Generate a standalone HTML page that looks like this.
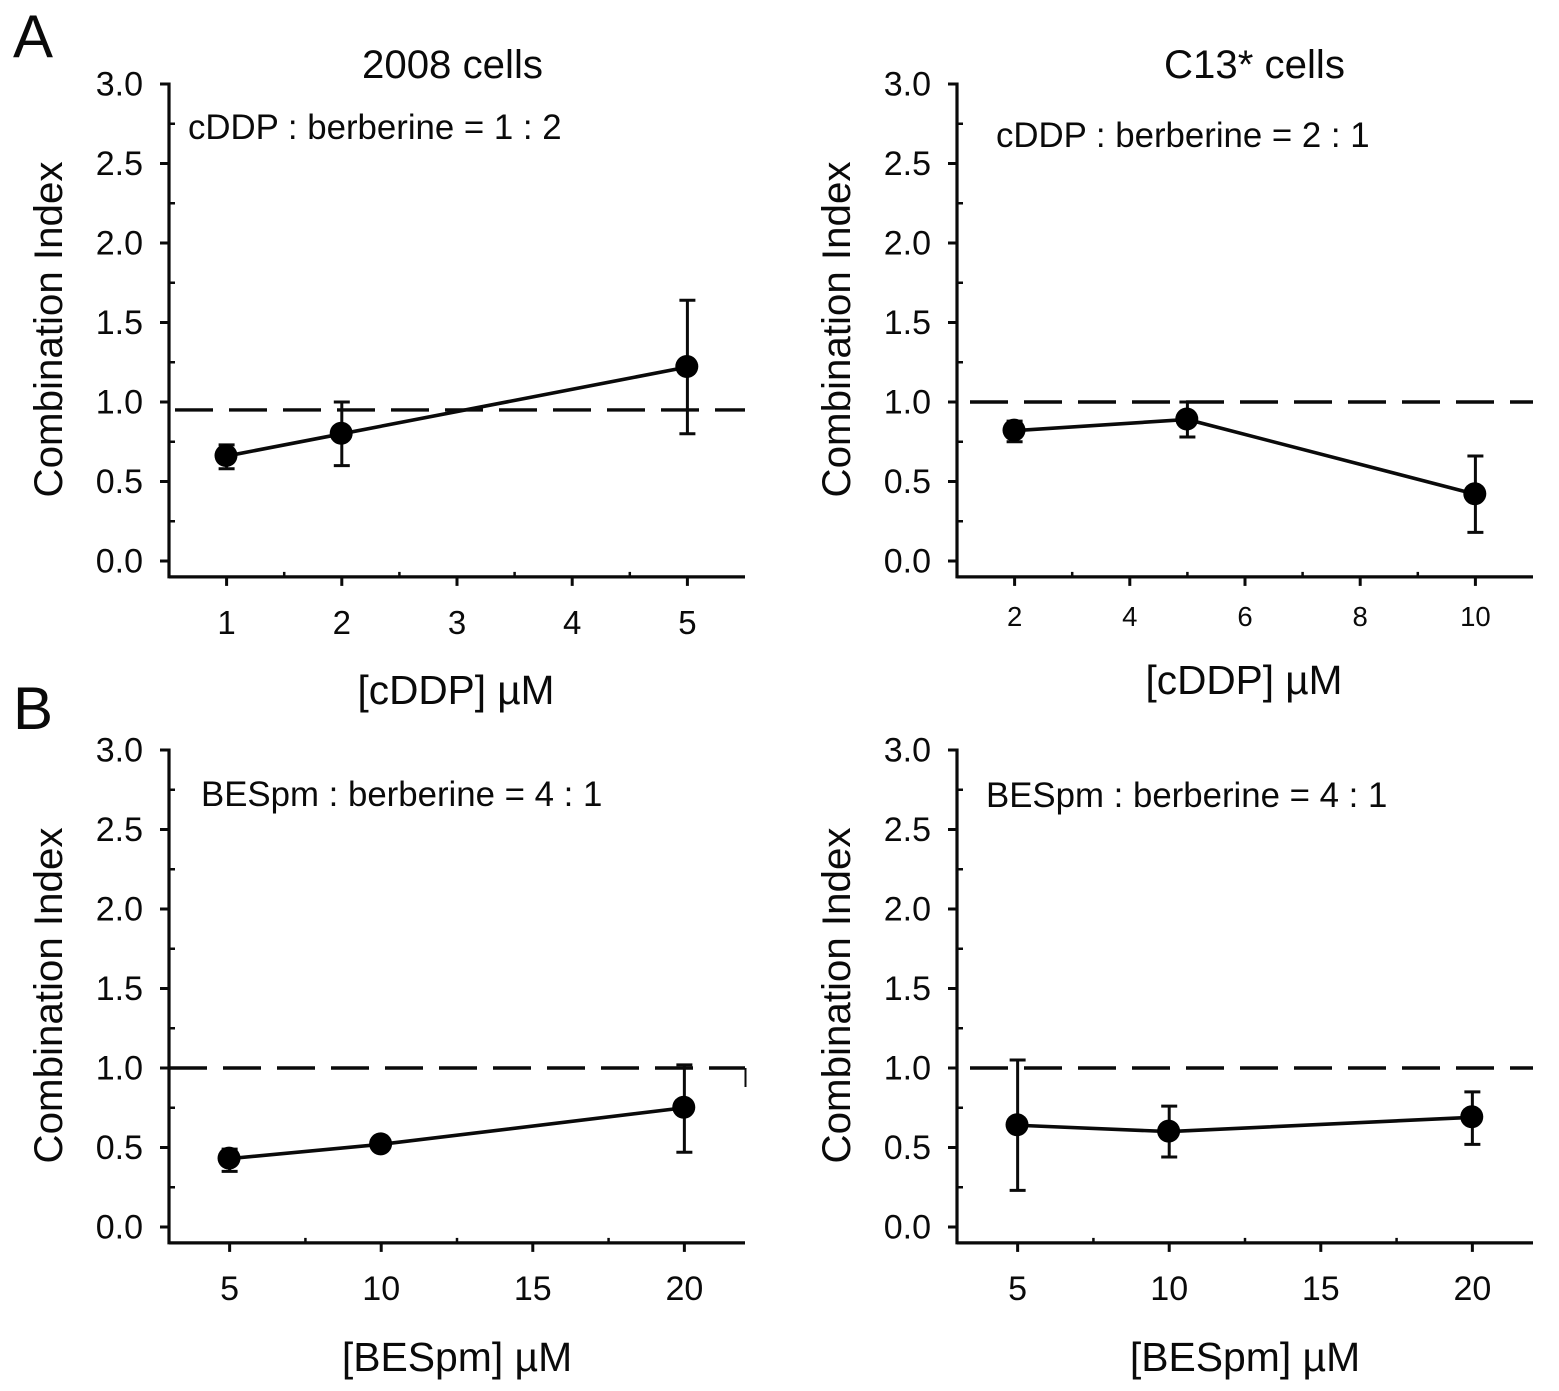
<!DOCTYPE html>
<html lang="en">
<head>
<meta charset="utf-8">
<title>Combination Index charts</title>
<style>
html,body{margin:0;padding:0;background:#fff;}
svg{display:block;}
text{font-family:"Liberation Sans",sans-serif;fill:#0a0a0a;}
</style>
</head>
<body>
<svg id="figure" width="1559" height="1391" viewBox="0 0 1559 1391" xmlns="http://www.w3.org/2000/svg"></svg>
<script>
// Data
const yTickValues = [0, 0.5, 1, 1.5, 2, 2.5, 3];
const yTickLabels = ['0.0', '0.5', '1.0', '1.5', '2.0', '2.5', '3.0'];
const yMinorValues = [0.25, 0.75, 1.25, 1.75, 2.25, 2.75];

const a1Doses = [1, 2, 5];
const a1Ci = [0.66, 0.80, 1.22];
const a1Upper = [0.73, 1.00, 1.64];
const a1Lower = [0.58, 0.60, 0.80];
const a1Reference = 0.95;
const a1XTicks = [1, 2, 3, 4, 5];
const a1XMinor = [1.5, 2.5, 3.5, 4.5];

const a2Doses = [2, 5, 10];
const a2Ci = [0.82, 0.89, 0.42];
const a2Upper = [0.88, 1.00, 0.66];
const a2Lower = [0.75, 0.78, 0.18];
const a2Reference = 1.0;
const a2XTicks = [2, 4, 6, 8, 10];
const a2XMinor = [3, 5, 7, 9];

const b1Doses = [5, 10, 20];
const b1Ci = [0.43, 0.52, 0.75];
const b1Upper = [0.49, 0.55, 1.02];
const b1Lower = [0.35, 0.49, 0.47];
const b1Reference = 1.0;
const b1XTicks = [5, 10, 15, 20];
const b1XMinor = [7.5, 12.5, 17.5];

const b2Doses = [5, 10, 20];
const b2Ci = [0.64, 0.60, 0.69];
const b2Upper = [1.05, 0.76, 0.85];
const b2Lower = [0.23, 0.44, 0.52];
const b2Reference = 1.0;
const b2XTicks = [5, 10, 15, 20];
const b2XMinor = [7.5, 12.5, 17.5];

const NS = 'http://www.w3.org/2000/svg';
const root = document.getElementById('figure');

function make(tag, attrs, parent, content) {
  const el = document.createElementNS(NS, tag);
  for (const k in attrs) el.setAttribute(k, attrs[k]);
  if (content !== undefined) el.textContent = content;
  parent.appendChild(el);
  return el;
}

function drawLine(parent, x1, y1, x2, y2, w, name) {
  const el = make('line', {x1: x1, y1: y1, x2: x2, y2: y2, stroke: '#0a0a0a', 'stroke-width': w}, parent);
  
  
  return el;
}

function drawText(parent, x, y, size, anchor, str, name, extra) {
  const el = make('text', Object.assign({x: x, y: y, 'font-size': size, 'text-anchor': anchor}, extra || {}), parent, str);
  
  
  return el;
}

function drawPanel(p) {
  const g = make('g', {}, root);
  
  

  const sx = v => p.left + (v - p.xMin) / (p.xMax - p.xMin) * 576;
  const sy = v => p.top + (3 - v) * 159;
  const axisY = sy(-0.1);

  // axes
  drawLine(g, p.left, p.top - 1.5, p.left, axisY + 1.5, 3.2, 'y-axis-line');
  drawLine(g, p.left, axisY, p.left + 576, axisY, 3.2, 'x-axis-line');

  yTickValues.forEach((v, i) => {
    drawLine(g, p.left - 9, sy(v), p.left, sy(v), 3, 'y-tick');
    drawText(g, p.left - 26, sy(v) + 11.5, 34, 'end', yTickLabels[i], 'y-tick-label');
  });
  yMinorValues.forEach(v => {
    drawLine(g, p.left, sy(v), p.left + 6, sy(v), 2.5, 'y-minor-tick');
  });
  p.xTicks.forEach(v => {
    drawLine(g, sx(v), axisY, sx(v), axisY + 9, 3, 'x-tick');
    drawText(g, sx(v), p.xTickBase, p.xTickSize, 'middle', String(v), 'x-tick-label');
  });
  p.xMinor.forEach(v => {
    drawLine(g, sx(v), axisY, sx(v), axisY - 5, 2.5, 'x-minor-tick');
  });

  // reference line
  const ref = drawLine(g, p.left + p.dashStart, sy(p.reference), p.left + 576, sy(p.reference), 3.4, 'reference-dashed-line');
  ref.setAttribute('stroke-dasharray', '38 16');

  // error bars
  p.doses.forEach((d, i) => {
    const x = sx(d);
    drawLine(g, x, sy(p.upper[i]), x, sy(p.lower[i]), 3, 'error-bar');
    drawLine(g, x - 8, sy(p.upper[i]), x + 8, sy(p.upper[i]), 3, 'error-cap-upper');
    drawLine(g, x - 8, sy(p.lower[i]), x + 8, sy(p.lower[i]), 3, 'error-cap-lower');
  });

  // series line
  const pts = p.doses.map((d, i) => sx(d) + ',' + sy(p.ci[i])).join(' ');
  const poly = make('polyline', {points: pts, fill: 'none', stroke: '#0a0a0a', 'stroke-width': 3.6}, g);
  
  

  // points
  p.doses.forEach((d, i) => {
    const c = make('circle', {cx: sx(d) - 0.6, cy: sy(p.ci[i]) - 0.5, r: 11.5, fill: '#000'}, g);
    
    
  });

  // labels
  const yc = p.top + 245.5;
  drawText(g, 0, 0, 40.3, 'middle', 'Combination Index', 'y-axis-title',
    {transform: 'translate(' + (p.left - 107) + ' ' + yc + ') rotate(-90)'});
  drawText(g, p.xTitleX, p.xTitleBase, p.xTitleSize, 'middle', p.xTitle, 'x-axis-title');
  drawText(g, p.noteX, p.noteBase, 34.8, 'start', p.note, 'ratio-annotation');
  if (p.title) drawText(g, p.titleX, 78, 40.2, 'start', p.title, 'panel-title');
}

drawText(root, 13, 57, 60, 'start', 'A', 'panel-label-a');
drawText(root, 13, 729, 60, 'start', 'B', 'panel-label-b');

drawPanel({
  name: 'chart-2008-cddp', left: 169, top: 84, xMin: 0.5, xMax: 5.5,
  doses: a1Doses, ci: a1Ci, upper: a1Upper, lower: a1Lower, reference: a1Reference,
  xTicks: a1XTicks, xMinor: a1XMinor, xTickSize: 33, xTickBase: 634, dashStart: 6,
  xTitle: '[cDDP] µM', xTitleSize: 40.6, xTitleX: 456, xTitleBase: 704,
  note: 'cDDP : berberine = 1 : 2', noteX: 188, noteBase: 139,
  title: '2008 cells', titleX: 362
});
drawPanel({
  name: 'chart-c13-cddp', left: 957, top: 84, xMin: 1, xMax: 11,
  doses: a2Doses, ci: a2Ci, upper: a2Upper, lower: a2Lower, reference: a2Reference,
  xTicks: a2XTicks, xMinor: a2XMinor, xTickSize: 27.5, xTickBase: 626, dashStart: 13,
  xTitle: '[cDDP] µM', xTitleSize: 40.6, xTitleX: 1244, xTitleBase: 694,
  note: 'cDDP : berberine = 2 : 1', noteX: 996, noteBase: 147,
  title: 'C13* cells', titleX: 1164
});
drawPanel({
  name: 'chart-2008-bespm', left: 169, top: 750, xMin: 3, xMax: 22,
  doses: b1Doses, ci: b1Ci, upper: b1Upper, lower: b1Lower, reference: b1Reference,
  xTicks: b1XTicks, xMinor: b1XMinor, xTickSize: 34, xTickBase: 1300, dashStart: 0,
  xTitle: '[BESpm] µM', xTitleSize: 40.9, xTitleX: 457, xTitleBase: 1371,
  note: 'BESpm : berberine = 4 : 1', noteX: 201, noteBase: 806
});
drawPanel({
  name: 'chart-c13-bespm', left: 957, top: 750, xMin: 3, xMax: 22,
  doses: b2Doses, ci: b2Ci, upper: b2Upper, lower: b2Lower, reference: b2Reference,
  xTicks: b2XTicks, xMinor: b2XMinor, xTickSize: 34, xTickBase: 1300, dashStart: 13,
  xTitle: '[BESpm] µM', xTitleSize: 40.9, xTitleX: 1245, xTitleBase: 1371,
  note: 'BESpm : berberine = 4 : 1', noteX: 986, noteBase: 807
});

// small stray mark at the right end of the lower-left dashed line
drawLine(root, 745.5, 1068, 745.5, 1087, 2, 'reference-line-end-mark');
</script>
</body>
</html>
